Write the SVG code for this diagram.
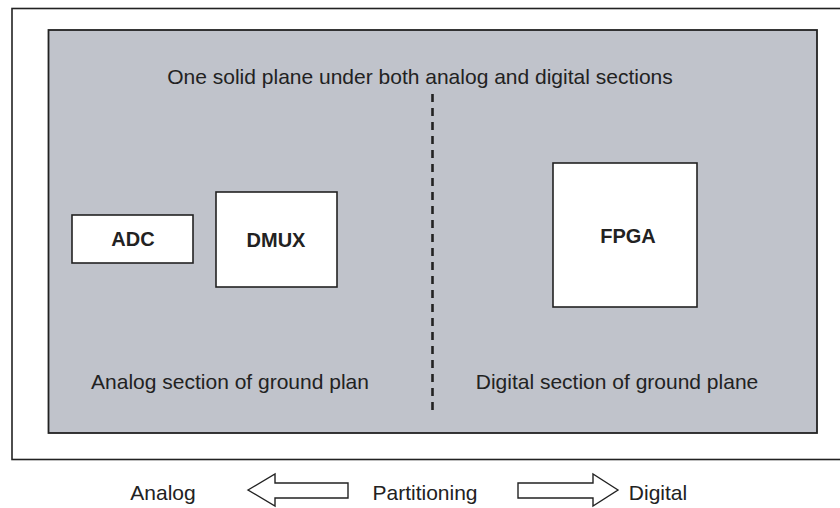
<svg xmlns="http://www.w3.org/2000/svg" width="840" height="508" viewBox="0 0 840 508">
<style>
.t{font-family:"Liberation Sans",Arial,sans-serif;font-size:21px;fill:#222;text-anchor:middle}
.b{font-weight:bold;font-size:20px}
.box{fill:#fff;stroke:#222;stroke-width:1.6}
.ar{fill:#fff;stroke:#222;stroke-width:1.4;stroke-linejoin:miter}
</style>
<rect x="0" y="0" width="840" height="508" fill="#fff"/>
<rect x="12" y="8.5" width="840" height="451" fill="#fff" stroke="#222" stroke-width="1.6"/>
<g id="plane">
<rect x="48.5" y="30" width="768.5" height="403" fill="#c0c3cb" stroke="#222" stroke-width="1.8"/>
<text class="t" x="420" y="84">One solid plane under both analog and digital sections</text>
<text class="t" x="230" y="389">Analog section of ground plan</text>
<text class="t" x="617" y="389">Digital section of ground plane</text>
</g>
<g id="divider">
<line x1="432.5" y1="94" x2="432.5" y2="410" stroke="#222" stroke-width="2.6" stroke-dasharray="8,6"/>
</g>
<g id="adc">
<rect class="box" x="72" y="215" width="121" height="48"/>
<text class="t b" x="133" y="246">ADC</text>
</g>
<g id="dmux">
<rect class="box" x="216" y="192" width="121" height="95"/>
<text class="t b" x="276" y="247">DMUX</text>
</g>
<g id="fpga">
<rect class="box" x="553" y="163" width="144" height="144"/>
<text class="t b" x="628" y="243">FPGA</text>
</g>
<g id="connectors">
<path class="ar" d="M248,490 L275,474 L275,483 L348,483 L348,498 L275,498 L275,506 Z"/>
<path class="ar" d="M618,490 L593,474 L593,483 L518,483 L518,498 L593,498 L593,506 Z"/>
</g>
<text class="t" x="163" y="500">Analog</text>
<text class="t" x="425" y="500">Partitioning</text>
<text class="t" x="658" y="500">Digital</text>
</svg>
